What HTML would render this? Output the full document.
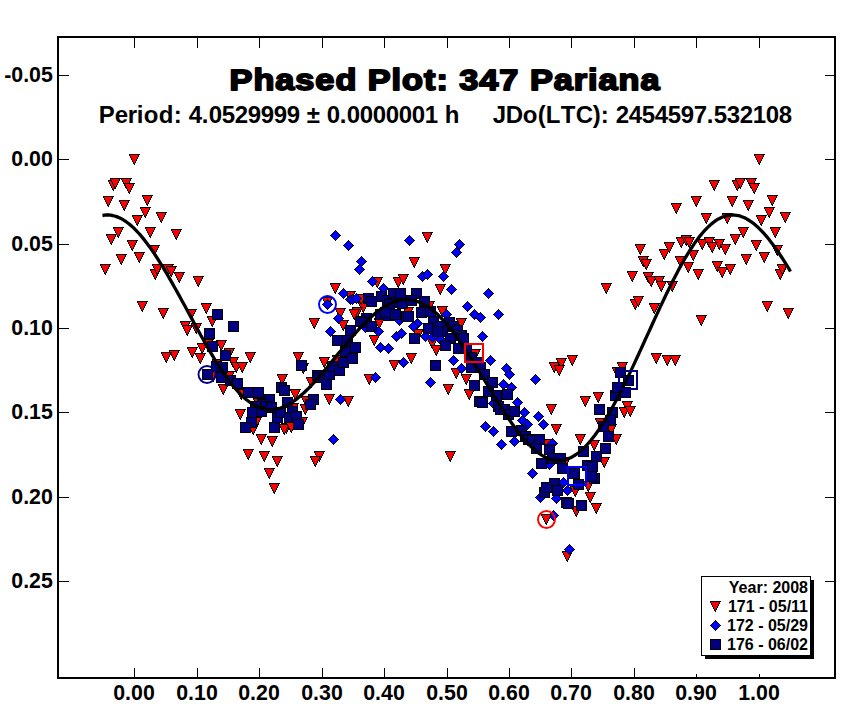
<!DOCTYPE html>
<html><head><meta charset="utf-8"><title>Phased Plot: 347 Pariana</title>
<style>
html,body{margin:0;padding:0;background:#fff;}
body{width:864px;height:721px;overflow:hidden;font-family:"Liberation Sans",sans-serif;}
svg{display:block;}
text{font-family:"Liberation Sans",sans-serif;font-weight:bold;fill:#000;}
</style></head><body>
<svg width="864" height="721" viewBox="0 0 864 721">
<rect x="0" y="0" width="864" height="721" fill="#fff"/>
<defs>
<g id="t"><path d="M-5 0h11v1h-11zM-5 1h10v1h-10zM-4 2h9v1h-9zM-4 3h8v1h-8zM-3 4h7v1h-7zM-3 5h6v1h-6zM-2 6h5v1h-5zM-2 7h4v1h-4zM-1 8h3v1h-3zM-1 9h2v1h-2zM0 10h1v1h-1z" fill="#000"/><path d="M-4 1h8v1h-8zM-3 2h7v1h-7zM-3 3h6v1h-6zM-2 4h5v1h-5zM-2 5h4v1h-4zM-1 6h3v1h-3zM-1 7h2v1h-2zM0 8h1v1h-1z" fill="#f00"/></g>
<g id="d"><path d="M0 -5h1v1h-1zM-1 -4h3v1h-3zM-2 -3h5v1h-5zM-3 -2h7v1h-7zM-4 -1h9v1h-9zM-5 0h11v1h-11zM-4 1h9v1h-9zM-3 2h7v1h-7zM-2 3h5v1h-5zM-1 4h3v1h-3zM0 5h1v1h-1z" fill="#000"/><path d="M0 -4h1v1h-1zM-1 -3h3v1h-3zM-2 -2h5v1h-5zM-3 -1h7v1h-7zM-4 0h9v1h-9zM-3 1h7v1h-7zM-2 2h5v1h-5zM-1 3h3v1h-3zM0 4h1v1h-1z" fill="#00f"/></g>
<g id="s"><rect width="11" height="11" fill="#000"/><rect x="1" y="1" width="9" height="9" fill="#000080"/></g>
</defs>
<g shape-rendering="crispEdges">
<rect x="58" y="37" width="777" height="641" fill="none" stroke="#000" stroke-width="2"/>
<rect x="134" y="38" width="1" height="10" fill="#000"/><rect x="134" y="668" width="1" height="9" fill="#000"/><rect x="197" y="38" width="1" height="10" fill="#000"/><rect x="197" y="668" width="1" height="9" fill="#000"/><rect x="259" y="38" width="1" height="10" fill="#000"/><rect x="259" y="668" width="1" height="9" fill="#000"/><rect x="322" y="38" width="1" height="10" fill="#000"/><rect x="322" y="668" width="1" height="9" fill="#000"/><rect x="384" y="38" width="1" height="10" fill="#000"/><rect x="384" y="668" width="1" height="9" fill="#000"/><rect x="447" y="38" width="1" height="10" fill="#000"/><rect x="447" y="668" width="1" height="9" fill="#000"/><rect x="509" y="38" width="1" height="10" fill="#000"/><rect x="509" y="668" width="1" height="9" fill="#000"/><rect x="571" y="38" width="1" height="10" fill="#000"/><rect x="571" y="668" width="1" height="9" fill="#000"/><rect x="634" y="38" width="1" height="10" fill="#000"/><rect x="634" y="668" width="1" height="9" fill="#000"/><rect x="696" y="38" width="1" height="10" fill="#000"/><rect x="696" y="674" width="1" height="3" fill="#000"/><rect x="759" y="38" width="1" height="10" fill="#000"/><rect x="759" y="674" width="1" height="3" fill="#000"/><rect x="59" y="75" width="10" height="1" fill="#000"/><rect x="825" y="75" width="9" height="1" fill="#000"/><rect x="59" y="159" width="10" height="1" fill="#000"/><rect x="825" y="159" width="9" height="1" fill="#000"/><rect x="59" y="244" width="10" height="1" fill="#000"/><rect x="825" y="244" width="9" height="1" fill="#000"/><rect x="59" y="328" width="10" height="1" fill="#000"/><rect x="825" y="328" width="9" height="1" fill="#000"/><rect x="59" y="412" width="10" height="1" fill="#000"/><rect x="825" y="412" width="9" height="1" fill="#000"/><rect x="59" y="497" width="10" height="1" fill="#000"/><rect x="825" y="497" width="9" height="1" fill="#000"/><rect x="59" y="581" width="10" height="1" fill="#000"/><rect x="825" y="581" width="9" height="1" fill="#000"/>
</g>
<g font-size="21.33" text-anchor="end">
<text x="52.8" y="82">-0.05</text><text x="52.8" y="166">0.00</text><text x="52.8" y="251">0.05</text><text x="52.8" y="335">0.10</text><text x="52.8" y="419">0.15</text><text x="52.8" y="504">0.20</text><text x="52.8" y="588">0.25</text>
</g>
<g font-size="21.33" text-anchor="middle">
<text x="134" y="700">0.00</text><text x="197" y="700">0.10</text><text x="259" y="700">0.20</text><text x="322" y="700">0.30</text><text x="384" y="700">0.40</text><text x="447" y="700">0.50</text><text x="509" y="700">0.60</text><text x="571" y="700">0.70</text><text x="634" y="700">0.80</text><text x="696" y="700">0.90</text><text x="759" y="700">1.00</text>
</g>
<text transform="translate(229.6,90) scale(1.18,1)" font-size="29" letter-spacing="0.85" stroke="#000" stroke-width="1.8" stroke-linejoin="round">Phased Plot: 347 Pariana</text>
<text x="98.7 114.7 127.7 136.7 143.7 158.7 173.7 181.7 188.7 201.7 208.7 221.7 234.7 247.7 260.7 273.7 286.7 299.7 306.7 319.7 326.7 339.7 346.7 359.7 372.7 385.7 398.7 411.7 424.7 437.7 444.7" y="123" font-size="24">Period:&#160;4.0529999&#160;±&#160;0.0000001&#160;h</text>
<text x="492.7 505.7 522.7 537.7 545.7 560.7 575.7 592.7 600.7 608.7 615.7 628.7 641.7 654.7 667.7 680.7 693.7 706.7 713.7 726.7 739.7 752.7 765.7 778.7" y="123" font-size="24">JDo(LTC):&#160;2454597.532108</text>
<g shape-rendering="crispEdges">
<use href="#t" x="134" y="154"/><use href="#t" x="113" y="180"/><use href="#t" x="115" y="178"/><use href="#t" x="126" y="178"/><use href="#t" x="129" y="183"/><use href="#t" x="108" y="196"/><use href="#t" x="124" y="200"/><use href="#t" x="147" y="195"/><use href="#t" x="145" y="207"/><use href="#t" x="161" y="212"/><use href="#t" x="137" y="215"/><use href="#t" x="118" y="227"/><use href="#t" x="150" y="227"/><use href="#t" x="176" y="229"/><use href="#t" x="111" y="234"/><use href="#t" x="132" y="240"/><use href="#t" x="154" y="245"/><use href="#t" x="121" y="254"/><use href="#t" x="139" y="252"/><use href="#t" x="105" y="264"/><use href="#t" x="155" y="269"/><use href="#t" x="157" y="264"/><use href="#t" x="168" y="264"/><use href="#t" x="171" y="266"/><use href="#t" x="179" y="272"/><use href="#t" x="198" y="276"/><use href="#t" x="142" y="301"/><use href="#t" x="163" y="308"/><use href="#t" x="191" y="309"/><use href="#t" x="206" y="303"/><use href="#t" x="185" y="321"/><use href="#t" x="187" y="325"/><use href="#t" x="196" y="323"/><use href="#t" x="212" y="316"/><use href="#t" x="221" y="340"/><use href="#t" x="202" y="343"/><use href="#t" x="208" y="339"/><use href="#t" x="229" y="348"/><use href="#t" x="192" y="347"/><use href="#t" x="200" y="353"/><use href="#t" x="174" y="350"/><use href="#t" x="166" y="352"/><use href="#t" x="250" y="352"/><use href="#t" x="233" y="357"/><use href="#t" x="236" y="362"/><use href="#t" x="242" y="362"/><use href="#t" x="217" y="359"/><use href="#t" x="229" y="371"/><use href="#t" x="213" y="371"/><use href="#t" x="223" y="384"/><use href="#t" x="241" y="389"/><use href="#t" x="258" y="398"/><use href="#t" x="282" y="374"/><use href="#t" x="295" y="389"/><use href="#t" x="329" y="394"/><use href="#t" x="240" y="409"/><use href="#t" x="311" y="377"/><use href="#t" x="303" y="363"/><use href="#t" x="305" y="404"/><use href="#t" x="306" y="396"/><use href="#t" x="253" y="424"/><use href="#t" x="256" y="417"/><use href="#t" x="261" y="434"/><use href="#t" x="272" y="436"/><use href="#t" x="248" y="449"/><use href="#t" x="264" y="451"/><use href="#t" x="277" y="456"/><use href="#t" x="286" y="423"/><use href="#t" x="284" y="424"/><use href="#t" x="291" y="422"/><use href="#t" x="302" y="417"/><use href="#t" x="319" y="451"/><use href="#t" x="315" y="456"/><use href="#t" x="324" y="357"/><use href="#t" x="293" y="403"/><use href="#t" x="269" y="468"/><use href="#t" x="274" y="483"/><use href="#t" x="414" y="257"/><use href="#t" x="398" y="277"/><use href="#t" x="403" y="274"/><use href="#t" x="377" y="277"/><use href="#t" x="335" y="283"/><use href="#t" x="350" y="291"/><use href="#t" x="327" y="297"/><use href="#t" x="340" y="308"/><use href="#t" x="314" y="318"/><use href="#t" x="363" y="302"/><use href="#t" x="357" y="307"/><use href="#t" x="354" y="309"/><use href="#t" x="361" y="294"/><use href="#t" x="408" y="307"/><use href="#t" x="379" y="318"/><use href="#t" x="343" y="320"/><use href="#t" x="374" y="335"/><use href="#t" x="298" y="352"/><use href="#t" x="337" y="355"/><use href="#t" x="348" y="396"/><use href="#t" x="394" y="360"/><use href="#t" x="369" y="374"/><use href="#t" x="427" y="232"/><use href="#t" x="445" y="264"/><use href="#t" x="440" y="284"/><use href="#t" x="442" y="306"/><use href="#t" x="429" y="301"/><use href="#t" x="461" y="318"/><use href="#t" x="418" y="329"/><use href="#t" x="432" y="338"/><use href="#t" x="436" y="345"/><use href="#t" x="411" y="353"/><use href="#t" x="475" y="349"/><use href="#t" x="456" y="368"/><use href="#t" x="466" y="374"/><use href="#t" x="448" y="384"/><use href="#t" x="469" y="389"/><use href="#t" x="450" y="451"/><use href="#t" x="572" y="355"/><use href="#t" x="561" y="358"/><use href="#t" x="554" y="362"/><use href="#t" x="559" y="365"/><use href="#t" x="551" y="404"/><use href="#t" x="556" y="424"/><use href="#t" x="585" y="396"/><use href="#t" x="598" y="392"/><use href="#t" x="580" y="434"/><use href="#t" x="600" y="418"/><use href="#t" x="611" y="424"/><use href="#t" x="616" y="434"/><use href="#t" x="617" y="367"/><use href="#t" x="622" y="362"/><use href="#t" x="594" y="440"/><use href="#t" x="604" y="457"/><use href="#t" x="547" y="439"/><use href="#t" x="565" y="457"/><use href="#t" x="588" y="481"/><use href="#t" x="575" y="486"/><use href="#t" x="590" y="492"/><use href="#t" x="596" y="503"/><use href="#t" x="576" y="506"/><use href="#t" x="546" y="514"/><use href="#t" x="567" y="551"/><use href="#t" x="656" y="353"/><use href="#t" x="667" y="355"/><use href="#t" x="675" y="355"/><use href="#t" x="627" y="401"/><use href="#t" x="624" y="407"/><use href="#t" x="630" y="406"/><use href="#t" x="640" y="244"/><use href="#t" x="664" y="249"/><use href="#t" x="669" y="242"/><use href="#t" x="643" y="256"/><use href="#t" x="646" y="259"/><use href="#t" x="680" y="256"/><use href="#t" x="632" y="271"/><use href="#t" x="648" y="272"/><use href="#t" x="651" y="276"/><use href="#t" x="659" y="276"/><use href="#t" x="661" y="281"/><use href="#t" x="672" y="281"/><use href="#t" x="606" y="283"/><use href="#t" x="635" y="299"/><use href="#t" x="638" y="296"/><use href="#t" x="654" y="303"/><use href="#t" x="681" y="237"/><use href="#t" x="686" y="235"/><use href="#t" x="689" y="237"/><use href="#t" x="688" y="262"/><use href="#t" x="759" y="154"/><use href="#t" x="714" y="180"/><use href="#t" x="737" y="180"/><use href="#t" x="740" y="178"/><use href="#t" x="751" y="178"/><use href="#t" x="754" y="183"/><use href="#t" x="696" y="196"/><use href="#t" x="732" y="196"/><use href="#t" x="748" y="200"/><use href="#t" x="772" y="195"/><use href="#t" x="769" y="207"/><use href="#t" x="785" y="212"/><use href="#t" x="761" y="215"/><use href="#t" x="706" y="213"/><use href="#t" x="727" y="213"/><use href="#t" x="743" y="227"/><use href="#t" x="735" y="234"/><use href="#t" x="775" y="227"/><use href="#t" x="756" y="240"/><use href="#t" x="676" y="203"/><use href="#t" x="702" y="239"/><use href="#t" x="709" y="237"/><use href="#t" x="719" y="239"/><use href="#t" x="712" y="242"/><use href="#t" x="725" y="244"/><use href="#t" x="693" y="250"/><use href="#t" x="698" y="269"/><use href="#t" x="717" y="261"/><use href="#t" x="722" y="267"/><use href="#t" x="730" y="264"/><use href="#t" x="746" y="254"/><use href="#t" x="764" y="252"/><use href="#t" x="777" y="245"/><use href="#t" x="780" y="269"/><use href="#t" x="782" y="264"/><use href="#t" x="767" y="301"/><use href="#t" x="788" y="308"/><use href="#t" x="701" y="315"/>
<use href="#d" x="340" y="399"/><use href="#d" x="333" y="439"/><use href="#d" x="335" y="235"/><use href="#d" x="348" y="245"/><use href="#d" x="361" y="261"/><use href="#d" x="359" y="269"/><use href="#d" x="409" y="240"/><use href="#d" x="372" y="281"/><use href="#d" x="343" y="293"/><use href="#d" x="350" y="299"/><use href="#d" x="352" y="299"/><use href="#d" x="356" y="298"/><use href="#d" x="327" y="304"/><use href="#d" x="383" y="288"/><use href="#d" x="338" y="318"/><use href="#d" x="330" y="331"/><use href="#d" x="378" y="331"/><use href="#d" x="380" y="347"/><use href="#d" x="388" y="348"/><use href="#d" x="396" y="336"/><use href="#d" x="401" y="333"/><use href="#d" x="403" y="362"/><use href="#d" x="375" y="377"/><use href="#d" x="399" y="320"/><use href="#d" x="365" y="327"/><use href="#d" x="459" y="244"/><use href="#d" x="456" y="252"/><use href="#d" x="422" y="276"/><use href="#d" x="427" y="274"/><use href="#d" x="443" y="276"/><use href="#d" x="451" y="289"/><use href="#d" x="488" y="293"/><use href="#d" x="467" y="306"/><use href="#d" x="474" y="314"/><use href="#d" x="480" y="317"/><use href="#d" x="498" y="314"/><use href="#d" x="446" y="314"/><use href="#d" x="482" y="336"/><use href="#d" x="490" y="360"/><use href="#d" x="453" y="360"/><use href="#d" x="461" y="368"/><use href="#d" x="506" y="368"/><use href="#d" x="509" y="374"/><use href="#d" x="503" y="384"/><use href="#d" x="511" y="387"/><use href="#d" x="430" y="382"/><use href="#d" x="417" y="323"/><use href="#d" x="413" y="326"/><use href="#d" x="425" y="336"/><use href="#d" x="432" y="337"/><use href="#d" x="440" y="339"/><use href="#d" x="535" y="379"/><use href="#d" x="517" y="402"/><use href="#d" x="524" y="412"/><use href="#d" x="522" y="420"/><use href="#d" x="527" y="424"/><use href="#d" x="538" y="416"/><use href="#d" x="485" y="426"/><use href="#d" x="493" y="431"/><use href="#d" x="501" y="444"/><use href="#d" x="514" y="441"/><use href="#d" x="493" y="403"/><use href="#d" x="543" y="424"/><use href="#d" x="532" y="473"/><use href="#d" x="552" y="443"/><use href="#d" x="549" y="464"/><use href="#d" x="540" y="497"/><use href="#d" x="556" y="498"/><use href="#d" x="567" y="490"/><use href="#d" x="563" y="482"/><use href="#d" x="553" y="515"/><use href="#d" x="569" y="549"/><use href="#t" x="546" y="514"/>
<use href="#s" x="212" y="309"/><use href="#s" x="228" y="321"/><use href="#s" x="204" y="328"/><use href="#s" x="207" y="341"/><use href="#s" x="220" y="350"/><use href="#s" x="217" y="362"/><use href="#s" x="211" y="361"/><use href="#s" x="216" y="372"/><use href="#s" x="225" y="375"/><use href="#s" x="232" y="378"/><use href="#s" x="243" y="387"/><use href="#s" x="253" y="387"/><use href="#s" x="264" y="394"/><use href="#s" x="202" y="369"/><use href="#s" x="257" y="399"/><use href="#s" x="250" y="401"/><use href="#s" x="261" y="401"/><use href="#s" x="266" y="402"/><use href="#s" x="247" y="407"/><use href="#s" x="256" y="406"/><use href="#s" x="246" y="417"/><use href="#s" x="240" y="422"/><use href="#s" x="269" y="422"/><use href="#s" x="272" y="412"/><use href="#s" x="275" y="407"/><use href="#s" x="276" y="382"/><use href="#s" x="279" y="385"/><use href="#s" x="282" y="397"/><use href="#s" x="287" y="406"/><use href="#s" x="284" y="412"/><use href="#s" x="291" y="411"/><use href="#s" x="293" y="419"/><use href="#s" x="296" y="360"/><use href="#s" x="308" y="394"/><use href="#s" x="305" y="399"/><use href="#s" x="312" y="370"/><use href="#s" x="314" y="372"/><use href="#s" x="321" y="379"/><use href="#s" x="324" y="369"/><use href="#s" x="327" y="361"/><use href="#s" x="334" y="365"/><use href="#s" x="338" y="357"/><use href="#s" x="363" y="293"/><use href="#s" x="366" y="296"/><use href="#s" x="376" y="291"/><use href="#s" x="382" y="295"/><use href="#s" x="388" y="288"/><use href="#s" x="391" y="297"/><use href="#s" x="395" y="288"/><use href="#s" x="411" y="288"/><use href="#s" x="384" y="299"/><use href="#s" x="397" y="298"/><use href="#s" x="406" y="295"/><use href="#s" x="375" y="309"/><use href="#s" x="383" y="310"/><use href="#s" x="390" y="309"/><use href="#s" x="361" y="313"/><use href="#s" x="401" y="311"/><use href="#s" x="416" y="307"/><use href="#s" x="403" y="311"/><use href="#s" x="332" y="335"/><use href="#s" x="342" y="335"/><use href="#s" x="345" y="325"/><use href="#s" x="340" y="346"/><use href="#s" x="350" y="342"/><use href="#s" x="347" y="353"/><use href="#s" x="355" y="316"/><use href="#s" x="358" y="317"/><use href="#s" x="366" y="321"/><use href="#s" x="380" y="307"/><use href="#s" x="419" y="296"/><use href="#s" x="425" y="306"/><use href="#s" x="428" y="316"/><use href="#s" x="444" y="317"/><use href="#s" x="435" y="321"/><use href="#s" x="423" y="323"/><use href="#s" x="437" y="326"/><use href="#s" x="432" y="326"/><use href="#s" x="448" y="321"/><use href="#s" x="452" y="325"/><use href="#s" x="456" y="330"/><use href="#s" x="458" y="333"/><use href="#s" x="445" y="333"/><use href="#s" x="409" y="333"/><use href="#s" x="440" y="340"/><use href="#s" x="453" y="343"/><use href="#s" x="461" y="343"/><use href="#s" x="466" y="352"/><use href="#s" x="473" y="357"/><use href="#s" x="466" y="362"/><use href="#s" x="475" y="362"/><use href="#s" x="479" y="369"/><use href="#s" x="487" y="377"/><use href="#s" x="469" y="380"/><use href="#s" x="483" y="386"/><use href="#s" x="430" y="360"/><use href="#s" x="491" y="390"/><use href="#s" x="502" y="389"/><use href="#s" x="474" y="396"/><use href="#s" x="477" y="397"/><use href="#s" x="493" y="401"/><use href="#s" x="495" y="404"/><use href="#s" x="499" y="404"/><use href="#s" x="503" y="409"/><use href="#s" x="509" y="406"/><use href="#s" x="506" y="426"/><use href="#s" x="516" y="425"/><use href="#s" x="520" y="431"/><use href="#s" x="523" y="434"/><use href="#s" x="527" y="435"/><use href="#s" x="534" y="434"/><use href="#s" x="531" y="443"/><use href="#s" x="536" y="458"/><use href="#s" x="594" y="404"/><use href="#s" x="607" y="407"/><use href="#s" x="610" y="390"/><use href="#s" x="612" y="382"/><use href="#s" x="615" y="367"/><use href="#s" x="605" y="415"/><use href="#s" x="598" y="421"/><use href="#s" x="603" y="431"/><use href="#s" x="544" y="444"/><use href="#s" x="547" y="453"/><use href="#s" x="555" y="453"/><use href="#s" x="557" y="463"/><use href="#s" x="569" y="468"/><use href="#s" x="573" y="479"/><use href="#s" x="578" y="446"/><use href="#s" x="582" y="460"/><use href="#s" x="587" y="461"/><use href="#s" x="591" y="451"/><use href="#s" x="600" y="443"/><use href="#s" x="589" y="473"/><use href="#s" x="586" y="471"/><use href="#s" x="549" y="478"/><use href="#s" x="539" y="487"/><use href="#s" x="541" y="482"/><use href="#s" x="552" y="485"/><use href="#s" x="561" y="497"/><use href="#s" x="563" y="498"/><use href="#s" x="576" y="500"/><use href="#s" x="623" y="375"/><use href="#s" x="620" y="387"/>
</g>
<path d="M102.5 215.5 L104.5 215.2 L106.5 215 L108.5 215 L110.5 215.2 L112.5 215.5 L114.5 216 L116.5 216.6 L118.5 217.4 L120.5 218.3 L122.5 219.4 L124.5 220.6 L126.5 222 L128.5 223.5 L130.5 225.1 L132.5 226.9 L134.5 228.8 L136.5 230.8 L138.5 233 L140.5 235.2 L142.5 237.6 L144.5 240.1 L146.5 242.7 L148.5 245.4 L150.5 248.1 L152.5 251 L154.5 253.9 L156.5 257 L158.5 260.1 L160.5 263.3 L162.5 266.5 L164.5 269.8 L166.5 273.2 L168.5 276.6 L170.5 280.1 L172.5 283.6 L174.5 287.2 L176.5 290.7 L178.5 294.4 L180.5 298 L182.5 301.7 L184.5 305.3 L186.5 309 L188.5 312.7 L190.5 316.4 L192.5 320.1 L194.5 323.8 L196.5 327.5 L198.5 331.1 L200.5 334.8 L202.5 338.3 L204.5 341.9 L206.5 345.4 L208.5 348.9 L210.5 352.3 L212.5 355.7 L214.5 359 L216.5 362.3 L218.5 365.4 L220.5 368.5 L222.5 371.5 L224.5 374.5 L226.5 377.3 L228.5 380.1 L230.5 382.7 L232.5 385.2 L234.5 387.7 L236.5 390 L238.5 392.2 L240.5 394.3 L242.5 396.2 L244.5 398.1 L246.5 399.8 L248.5 401.3 L250.5 402.8 L252.5 404.1 L254.5 405.3 L256.5 406.3 L258.5 407.2 L260.5 407.9 L262.5 408.6 L264.5 409 L266.5 409.4 L268.5 409.6 L270.5 409.6 L272.5 409.6 L274.5 409.4 L276.5 409 L278.5 408.6 L280.5 408 L282.5 407.2 L284.5 406.4 L286.5 405.5 L288.5 404.4 L290.5 403.2 L292.5 401.9 L294.5 400.6 L296.5 399.1 L298.5 397.5 L300.5 395.8 L302.5 394.1 L304.5 392.2 L306.5 390.3 L308.5 388.4 L310.5 386.3 L312.5 384.2 L314.5 382.1 L316.5 379.8 L318.5 377.6 L320.5 375.3 L322.5 372.9 L324.5 370.6 L326.5 368.2 L328.5 365.7 L330.5 363.3 L332.5 360.8 L334.5 358.4 L336.5 355.9 L338.5 353.4 L340.5 351 L342.5 348.5 L344.5 346.1 L346.5 343.6 L348.5 341.2 L350.5 338.9 L352.5 336.5 L354.5 334.2 L356.5 331.9 L358.5 329.7 L360.5 327.5 L362.5 325.4 L364.5 323.3 L366.5 321.3 L368.5 319.4 L370.5 317.5 L372.5 315.7 L374.5 314 L376.5 312.3 L378.5 310.8 L380.5 309.3 L382.5 307.9 L384.5 306.7 L386.5 305.5 L388.5 304.4 L390.5 303.4 L392.5 302.5 L394.5 301.8 L396.5 301.1 L398.5 300.6 L400.5 300.2 L402.5 299.9 L404.5 299.7 L406.5 299.6 L408.5 299.7 L410.5 299.9 L412.5 300.2 L414.5 300.6 L416.5 301.2 L418.5 301.9 L420.5 302.7 L422.5 303.6 L424.5 304.7 L426.5 305.9 L428.5 307.2 L430.5 308.6 L432.5 310.1 L434.5 311.8 L436.5 313.5 L438.5 315.4 L440.5 317.4 L442.5 319.5 L444.5 321.7 L446.5 323.9 L448.5 326.3 L450.5 328.8 L452.5 331.3 L454.5 334 L456.5 336.7 L458.5 339.4 L460.5 342.3 L462.5 345.2 L464.5 348.2 L466.5 351.2 L468.5 354.3 L470.5 357.4 L472.5 360.6 L474.5 363.8 L476.5 367 L478.5 370.3 L480.5 373.5 L482.5 376.8 L484.5 380.1 L486.5 383.4 L488.5 386.7 L490.5 390 L492.5 393.3 L494.5 396.6 L496.5 399.8 L498.5 403 L500.5 406.2 L502.5 409.4 L504.5 412.4 L506.5 415.5 L508.5 418.5 L510.5 421.4 L512.5 424.3 L514.5 427 L516.5 429.7 L518.5 432.4 L520.5 434.9 L522.5 437.4 L524.5 439.7 L526.5 441.9 L528.5 444.1 L530.5 446.1 L532.5 448 L534.5 449.8 L536.5 451.4 L538.5 453 L540.5 454.4 L542.5 455.6 L544.5 456.8 L546.5 457.7 L548.5 458.6 L550.5 459.3 L552.5 459.8 L554.5 460.2 L556.5 460.4 L558.5 460.5 L560.5 460.4 L562.5 460.2 L564.5 459.8 L566.5 459.3 L568.5 458.5 L570.5 457.7 L572.5 456.7 L574.5 455.5 L576.5 454.2 L578.5 452.7 L580.5 451.1 L582.5 449.3 L584.5 447.4 L586.5 445.3 L588.5 443.1 L590.5 440.8 L592.5 438.3 L594.5 435.7 L596.5 433 L598.5 430.2 L600.5 427.2 L602.5 424.1 L604.5 420.9 L606.5 417.6 L608.5 414.3 L610.5 410.8 L612.5 407.2 L614.5 403.5 L616.5 399.8 L618.5 395.9 L620.5 392 L622.5 388.1 L624.5 384 L626.5 379.9 L628.5 375.8 L630.5 371.6 L632.5 367.4 L634.5 363.1 L636.5 358.8 L638.5 354.5 L640.5 350.1 L642.5 345.7 L644.5 341.3 L646.5 336.9 L648.5 332.6 L650.5 328.2 L652.5 323.8 L654.5 319.4 L656.5 315.1 L658.5 310.7 L660.5 306.4 L662.5 302.2 L664.5 298 L666.5 293.8 L668.5 289.7 L670.5 285.6 L672.5 281.6 L674.5 277.7 L676.5 273.9 L678.5 270.1 L680.5 266.4 L682.5 262.8 L684.5 259.3 L686.5 255.9 L688.5 252.6 L690.5 249.5 L692.5 246.4 L694.5 243.4 L696.5 240.6 L698.5 237.9 L700.5 235.4 L702.5 233 L704.5 230.7 L706.5 228.6 L708.5 226.6 L710.5 224.7 L712.5 223.1 L714.5 221.5 L716.5 220.2 L718.5 218.9 L720.5 217.9 L722.5 217 L724.5 216.3 L726.5 215.7 L728.5 215.3 L730.5 215.1 L732.5 215 L734.5 215.1 L736.5 215.3 L738.5 215.7 L740.5 216.2 L742.5 217 L744.5 217.8 L746.5 218.8 L748.5 220 L750.5 221.3 L752.5 222.7 L754.5 224.3 L756.5 226 L758.5 227.8 L760.5 229.8 L762.5 231.9 L764.5 234.1 L766.5 236.4 L768.5 238.8 L770.5 241.4 L772.5 244 L774.5 246.7 L776.5 249.6 L778.5 252.5 L780.5 255.5 L782.5 258.5 L784.5 261.7 L786.5 264.9 L788.5 268.2 L790.5 271.5" fill="none" stroke="#000" stroke-width="3.3" stroke-linejoin="round" stroke-linecap="butt"/>
<g fill="none" stroke-width="2">
<circle cx="207" cy="374.5" r="8.5" stroke="#000080" stroke-width="1.9"/><circle cx="327.5" cy="304.5" r="8.5" stroke="#00f" stroke-width="1.9"/><circle cx="546.5" cy="519.5" r="8.5" stroke="#f00" stroke-width="1.9"/><rect x="465" y="344" width="18" height="18" stroke="#f00" shape-rendering="crispEdges"/><rect x="568" y="467" width="18" height="18" stroke="#00f" shape-rendering="crispEdges"/><rect x="619" y="371" width="18" height="18" stroke="#000080" shape-rendering="crispEdges"/>
</g>
<g shape-rendering="crispEdges">
<rect x="705" y="580" width="109" height="79" fill="#000"/>
<rect x="701.5" y="576.5" width="109" height="79" fill="#fff" stroke="#000" stroke-width="1"/>
<use href="#t" x="715" y="601"/><use href="#d" x="715" y="625"/><use href="#s" x="710" y="639"/>
</g>
<g font-size="16" text-anchor="end">
<text x="808" y="592.5">Year: 2008</text><text x="808" y="611.5">171 - 05/11</text><text x="808" y="630.5">172 - 05/29</text><text x="808" y="649.5">176 - 06/02</text>
</g>
</svg>
</body></html>
